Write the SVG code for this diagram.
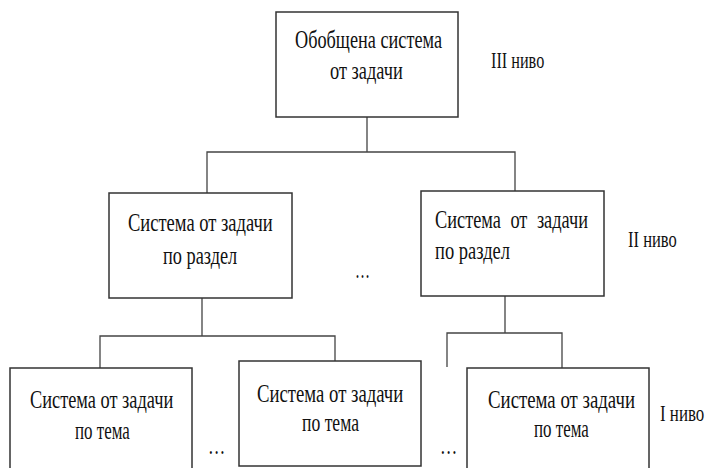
<svg xmlns="http://www.w3.org/2000/svg" width="710" height="468" viewBox="0 0 710 468">
<style>
.box{fill:#fff;stroke:#333;stroke-width:1.5}
.ln{fill:none;stroke:#444;stroke-width:1.3}
text{font-family:"Liberation Serif","Times New Roman",serif;font-size:26px;fill:#111}
.lv{font-size:23px}
</style>
<rect width="710" height="468" fill="#fff"/>
<g id="connectors">
<path class="ln" d="M367 117V152M207 193V152H515V191"/>
<path class="ln" d="M202 298V336M100 368V336H335V361"/>
<path class="ln" d="M505 296V333M447 367V333H562V368"/>
</g>
<g id="n_top">
<rect class="box" x="276" y="12" width="182" height="105"/>
<text transform="translate(295 48) scale(0.75 1)" textLength="196" lengthAdjust="spacingAndGlyphs">Обобщена система</text>
<text transform="translate(330 79) scale(0.75 1)" textLength="97" lengthAdjust="spacingAndGlyphs">от задачи</text>
</g>
<g id="n_mid_left">
<rect class="box" x="109" y="193" width="183" height="105"/>
<text transform="translate(128 231) scale(0.75 1)" textLength="193" lengthAdjust="spacingAndGlyphs">Система от задачи</text>
<text transform="translate(163 264) scale(0.75 1)" textLength="99" lengthAdjust="spacingAndGlyphs">по раздел</text>
</g>
<g id="n_mid_right">
<rect class="box" x="421" y="191" width="183" height="105"/>
<text transform="translate(435 228) scale(0.75 1)" textLength="204" lengthAdjust="spacingAndGlyphs" word-spacing="7">Система от задачи</text>
<text transform="translate(435 259) scale(0.75 1)" textLength="100" lengthAdjust="spacingAndGlyphs">по раздел</text>
</g>
<g id="n_bot_left">
<rect class="box" x="10" y="368" width="182" height="110"/>
<text transform="translate(30 408) scale(0.75 1)" textLength="191" lengthAdjust="spacingAndGlyphs">Система от задачи</text>
<text transform="translate(75 439) scale(0.75 1)" textLength="73" lengthAdjust="spacingAndGlyphs">по тема</text>
</g>
<g id="n_bot_mid">
<rect class="box" x="239" y="361" width="182" height="105"/>
<text transform="translate(257 402) scale(0.75 1)" textLength="195" lengthAdjust="spacingAndGlyphs">Система от задачи</text>
<text transform="translate(302 431) scale(0.75 1)" textLength="76" lengthAdjust="spacingAndGlyphs">по тема</text>
</g>
<g id="n_bot_right">
<rect class="box" x="467" y="368" width="182" height="110"/>
<text transform="translate(488 408) scale(0.75 1)" textLength="196" lengthAdjust="spacingAndGlyphs">Система от задачи</text>
<text transform="translate(534 437) scale(0.75 1)" textLength="73" lengthAdjust="spacingAndGlyphs">по тема</text>
</g>
<g id="labels">
<text class="lv" transform="translate(491 68) scale(0.75 1)" textLength="71" lengthAdjust="spacingAndGlyphs">III ниво</text>
<text class="lv" transform="translate(628 247) scale(0.75 1)" textLength="65" lengthAdjust="spacingAndGlyphs">II ниво</text>
<text class="lv" transform="translate(660 421) scale(0.75 1)" textLength="59" lengthAdjust="spacingAndGlyphs">I ниво</text>
<text transform="translate(355 278) scale(0.75 1)" textLength="20" lengthAdjust="spacingAndGlyphs">…</text>
<text transform="translate(208 454) scale(0.75 1)" textLength="23" lengthAdjust="spacingAndGlyphs">…</text>
<text transform="translate(440 454) scale(0.75 1)" textLength="23" lengthAdjust="spacingAndGlyphs">…</text>
</g>
</svg>
